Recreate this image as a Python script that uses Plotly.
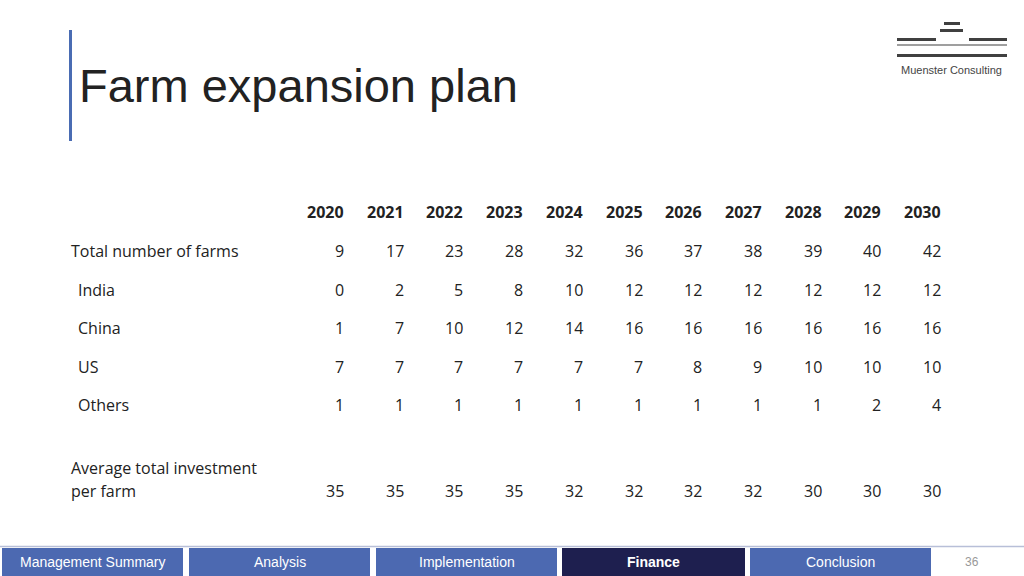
import plotly.graph_objects as go

years = ["2020", "2021", "2022", "2023", "2024", "2025", "2026", "2027", "2028", "2029", "2030"]
row_labels = ["Total number of farms", " India", " China", " US", " Others"]
total_farms = [9, 17, 23, 28, 32, 36, 37, 38, 39, 40, 42]
india = [0, 2, 5, 8, 10, 12, 12, 12, 12, 12, 12]
china = [1, 7, 10, 12, 14, 16, 16, 16, 16, 16, 16]
us = [7, 7, 7, 7, 7, 7, 8, 9, 10, 10, 10]
others = [1, 1, 1, 1, 1, 1, 1, 1, 1, 2, 4]
avg_invest = [35, 35, 35, 35, 32, 32, 32, 32, 30, 30, 30]
nav_items = ["Management Summary", "Analysis", "Implementation", "Finance", "Conclusion"]
active_nav = "Finance"
page_no = "36"

rows = [total_farms, india, china, us, others]
row_y = [251, 290, 328, 367, 405]
col_x = [344 + i * 59.7 for i in range(len(years))]
TXT = "#222222"
FONT = "Open Sans"

fig = go.Figure()
shapes = []
ann = []

def text(x, y, s, size=16, anchor="left", bold=False, color=TXT, family=FONT):
    # annotations carry a few px of padding; shift it back out
    shift = {"left": -2, "right": 2, "center": 0}[anchor]
    ann.append(dict(x=x, y=y, text=f"<b>{s}</b>" if bold else s, showarrow=False,
                    xanchor=anchor, yanchor="middle", xref="x", yref="y", xshift=shift,
                    font=dict(size=size, color=color, family=family)))

# title
shapes.append(dict(type="rect", x0=69, x1=72, y0=30, y1=141, fillcolor="#4a6cb3", line_width=0))
text(79, 85, "Farm expansion plan", size=47, family="Liberation Sans")

# logo
for x0, x1, y0, y1 in [(944, 960, 22, 25), (940, 963, 29, 32), (897, 936, 38, 41),
                       (969, 1007, 38, 41), (897, 1007, 44.5, 45.5), (897, 1007, 54, 57)]:
    shapes.append(dict(type="rect", x0=x0, x1=x1, y0=y0, y1=y1, fillcolor="#404040", line_width=0))
text(951, 70, "Muenster Consulting", size=11, anchor="center", color="#444", family="Liberation Sans")

# table
for x, yr in zip(col_x, years):
    text(x, 212, yr, anchor="right", bold=True)
for lab, vals, y in zip(row_labels, rows, row_y):
    text(71 if not lab.startswith(" ") else 78, y, lab.strip())
    for x, v in zip(col_x, vals):
        text(x, y, str(v), anchor="right")
text(71, 468, "Average total investment")
text(71, 491, "per farm")
for x, v in zip(col_x, avg_invest):
    text(x, 491, str(v), anchor="right")

# navigation
shapes.append(dict(type="line", x0=0, x1=1024, y0=546.5, y1=546.5, line=dict(color="#b8bfd8", width=1.5)))
nav_x = [(2, 183), (189, 370), (376, 557), (562, 745), (750, 931)]
for (x0, x1), item in zip(nav_x, nav_items):
    act = item == active_nav
    shapes.append(dict(type="rect", x0=x0, x1=x1, y0=548, y1=576,
                       fillcolor="#1e1f4f" if act else "#4c69b1", line_width=0))
    text((x0 + x1) / 2, 562, item, size=14, anchor="center", bold=act, color="white",
         family="Liberation Sans")
text(972, 562, page_no, size=12, anchor="center", color="#999", family="Liberation Sans")

fig.update_layout(
    width=1024, height=576, margin=dict(l=0, r=0, t=0, b=0),
    paper_bgcolor="white", plot_bgcolor="white", shapes=shapes, annotations=ann,
    xaxis=dict(range=[0, 1024], visible=False, fixedrange=True),
    yaxis=dict(range=[576, 0], visible=False, fixedrange=True),
    showlegend=False,
)
fig.write_html("out.html", config={"displayModeBar": False},
               post_script="document.body.style.margin='0';document.body.style.overflow='hidden';")
